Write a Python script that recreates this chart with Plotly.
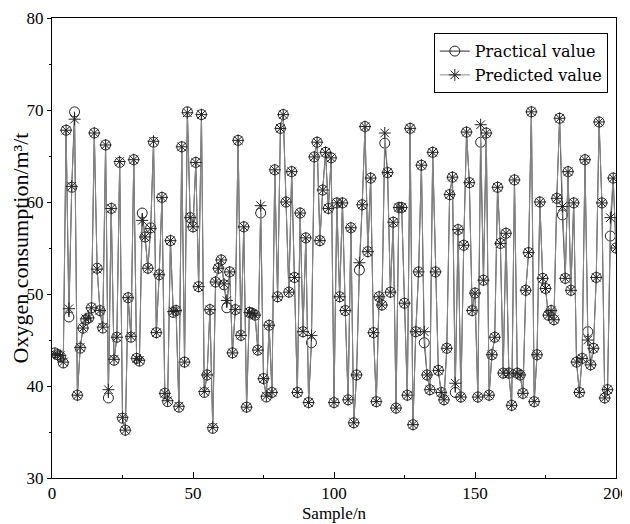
import plotly.graph_objects as go

practical = [43.6, 43.4, 43.2, 42.5, 67.8, 47.5, 61.6, 69.8, 39.0, 44.1,
             46.3, 47.2, 47.4, 48.5, 67.5, 52.8, 48.2, 46.3, 66.2, 38.7,
             59.3, 42.8, 45.3, 64.3, 36.5, 35.2, 49.6, 45.3, 64.6, 43.0,
             42.7, 58.8, 56.2, 52.8, 57.2, 66.5, 45.8, 52.1, 60.5, 39.2,
             38.3, 55.8, 48.0, 48.2, 37.7, 66.0, 42.6, 69.8, 58.3, 57.3,
             64.3, 50.8, 69.5, 39.3, 41.2, 48.3, 35.4, 51.3, 52.8, 53.7,
             51.0, 48.5, 52.4, 43.6, 48.3, 66.7, 45.5, 57.3, 37.7, 48.0,
             47.9, 47.7, 43.9, 58.8, 40.8, 38.8, 46.6, 39.3, 63.5, 49.7,
             68.0, 69.5, 60.0, 50.2, 63.3, 51.8, 39.3, 58.8, 45.9, 56.1,
             38.2, 44.7, 64.9, 66.5, 55.8, 61.3, 65.4, 59.3, 64.8, 38.2,
             59.9, 49.7, 59.9, 48.2, 38.5, 57.2, 36.0, 41.2, 52.6, 59.7,
             68.2, 54.6, 62.6, 45.8, 38.3, 49.7, 48.8, 66.4, 63.2, 50.2,
             57.8, 37.6, 59.4, 59.4, 49.0, 39.0, 68.0, 35.8, 45.9, 52.4,
             64.0, 44.7, 41.2, 39.6, 65.4, 52.4, 41.7, 39.3, 38.5, 44.1,
             60.8, 62.7, 39.3, 57.0, 38.8, 55.3, 67.6, 62.1, 48.2, 50.1,
             38.8, 66.5, 51.5, 67.5, 39.0, 43.4, 45.3, 61.6, 55.5, 41.4,
             56.6, 41.4, 37.9, 62.4, 41.4, 41.2, 39.2, 50.4, 54.5, 69.8,
             38.3, 43.4, 60.0, 51.7, 50.6, 47.7, 48.2, 47.2, 60.4, 69.1,
             58.6, 51.7, 63.3, 50.4, 59.9, 42.6, 39.3, 43.0, 64.6, 45.9,
             42.3, 44.1, 51.8, 68.7, 59.9, 38.7, 39.6, 56.3, 62.6, 55.0]

predicted = [43.5, 43.4, 43.3, 42.6, 67.8, 48.4, 61.7, 69.0, 39.0, 44.2,
             46.3, 47.3, 47.4, 48.5, 67.5, 52.7, 48.2, 46.4, 66.2, 39.6,
             59.3, 42.9, 45.3, 64.4, 36.6, 35.2, 49.6, 45.4, 64.6, 43.0,
             42.8, 58.0, 56.2, 52.8, 57.1, 66.6, 45.8, 52.1, 60.5, 39.2,
             38.4, 55.8, 48.1, 48.2, 37.8, 66.0, 42.6, 69.7, 58.3, 57.3,
             64.3, 50.8, 69.5, 39.4, 41.2, 48.3, 35.5, 51.3, 52.8, 53.7,
             51.1, 49.3, 52.4, 43.6, 48.3, 66.7, 45.5, 57.3, 37.7, 48.0,
             47.9, 47.7, 43.9, 59.6, 40.8, 38.9, 46.6, 39.3, 63.5, 49.7,
             68.0, 69.5, 60.0, 50.2, 63.3, 51.8, 39.3, 58.8, 45.9, 56.1,
             38.2, 45.5, 64.9, 66.5, 55.8, 61.3, 65.4, 59.3, 64.8, 38.2,
             59.9, 49.7, 59.9, 48.2, 38.5, 57.2, 36.0, 41.2, 53.4, 59.7,
             68.2, 54.6, 62.6, 45.8, 38.3, 49.7, 48.8, 67.5, 63.2, 50.2,
             57.8, 37.6, 59.4, 59.4, 49.0, 39.0, 68.0, 35.8, 45.9, 52.4,
             64.0, 45.9, 41.2, 39.6, 65.4, 52.4, 41.7, 39.3, 38.5, 44.1,
             60.8, 62.7, 40.3, 57.0, 38.8, 55.3, 67.6, 62.1, 48.2, 50.1,
             38.8, 68.4, 51.5, 67.5, 39.0, 43.4, 45.3, 61.6, 55.5, 41.4,
             56.6, 41.4, 37.9, 62.4, 41.4, 41.2, 39.2, 50.4, 54.5, 69.8,
             38.3, 43.4, 60.0, 51.7, 50.6, 47.7, 48.2, 47.2, 60.4, 69.1,
             59.5, 51.7, 63.3, 50.4, 59.9, 42.6, 39.3, 43.0, 64.6, 45.0,
             42.3, 44.1, 51.8, 68.7, 59.9, 38.7, 39.6, 58.3, 62.6, 55.0]

samples = list(range(1, len(practical) + 1))

x_ticks = [0, 50, 100, 150, 200]
y_ticks = [30, 40, 50, 60, 70, 80]

serif = "Liberation Serif"

fig = go.Figure()
fig.add_trace(go.Scatter(
    x=samples, y=practical, mode="lines+markers", name="Practical value",
    line=dict(color="#2a2a2a", width=1),
    marker=dict(symbol="circle-open", size=10, color="#222", line=dict(width=1)),
))
fig.add_trace(go.Scatter(
    x=samples, y=predicted, mode="lines+markers", name="Predicted value",
    line=dict(color="#8a8a8a", width=1),
    marker=dict(symbol="asterisk-open", size=10, color="#222", line=dict(width=1)),
))

axis_common = dict(
    showline=True, linecolor="black", linewidth=1, showgrid=False, zeroline=False,
    tickcolor="black", tickwidth=1, automargin=False,
    tickfont=dict(family=serif, size=17, color="black"),
)

# the page body adds an 8px offset, so the figure is 8px smaller and margins shifted
fig.update_layout(
    width=622, height=516,
    margin=dict(l=44, r=14, t=10, b=46),
    paper_bgcolor="white", plot_bgcolor="white",
    xaxis=dict(range=[0, 200], tickvals=x_ticks, mirror=True,
               ticks="inside", ticklen=6,
               minor=dict(dtick=25, ticks="inside", ticklen=3, tickcolor="black"),
               title=dict(text="Sample/n", font=dict(family=serif, size=17, color="black"), standoff=4),
               **axis_common),
    yaxis=dict(range=[30, 80], tickvals=y_ticks, mirror=True,
               ticks="outside", ticklen=4,
               minor=dict(dtick=5, ticks="outside", ticklen=2, tickcolor="black"),
               title=dict(text="Oxygen consumption/m³/t", font=dict(family=serif, size=22, color="black"), standoff=2),
               **axis_common),
    xaxis2=dict(range=[0, 200], overlaying="x", side="top", anchor="y",
                tickvals=x_ticks, ticks="inside", ticklen=6, showticklabels=False,
                showgrid=False, zeroline=False, showline=False, automargin=False),
    yaxis2=dict(range=[30, 80], overlaying="y", side="right", anchor="x",
                tickvals=y_ticks, ticks="inside", ticklen=6, showticklabels=False,
                showgrid=False, zeroline=False, showline=False, automargin=False),
    legend=dict(x=0.677, y=0.967, xanchor="left", yanchor="top",
                bgcolor="white", bordercolor="black", borderwidth=1,
                font=dict(family="DejaVu Serif", size=16, color="black"),
                tracegroupgap=0, itemwidth=30),
    showlegend=True,
)
fig.write_html("out.html")
